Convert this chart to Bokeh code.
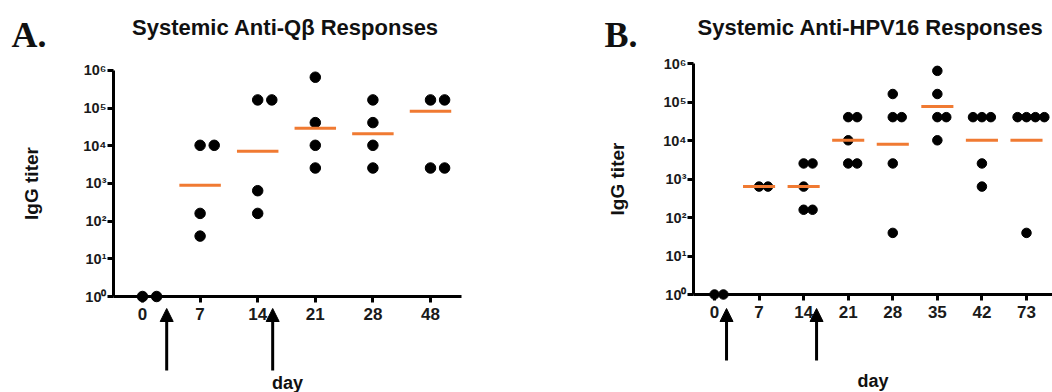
import math
from collections import Counter
from bokeh.plotting import figure
from bokeh.layouts import row
from bokeh.models import (FixedTicker, CustomJSTickFormatter, Label, Range1d,
                          Arrow, NormalHead, ColumnDataSource)
from bokeh.embed import file_html
from bokeh.resources import INLINE

# ---------------- data ----------------
days_A = ["0", "7", "14", "21", "28", "48"]
titers_A = [
    [1, 1],
    [10240, 10240, 160, 40],
    [163840, 163840, 640, 160],
    [655360, 40960, 10240, 2560],
    [163840, 40960, 10240, 2560],
    [163840, 163840, 2560, 2560],
]
means_A = [float("nan"), 900, 7100, 29000, 20700, 82500]
boosts_A = [0.42, 2.26]          # immunisation arrows, in category units

days_B = ["0", "7", "14", "21", "28", "35", "42", "73"]
titers_B = [
    [1, 1],
    [640, 640],
    [2560, 2560, 640, 160, 160],
    [40960, 40960, 10240, 2560, 2560],
    [163840, 40960, 40960, 2560, 40],
    [655360, 163840, 40960, 40960, 10240],
    [40960, 40960, 40960, 2560, 640],
    [40960, 40960, 40960, 40960, 40],
]
means_B = [float("nan"), 640, 640, 10240, 8100, 78000, 10240, 10240]
boosts_B = [0.27, 2.29]

ytick_values = [1, 10, 100, 1000, 10000, 100000, 1000000]
ytick_labels = ["10\u2070", "10\u00b9", "10\u00b2", "10\u00b3", "10\u2074", "10\u2075", "10\u2076"]

FONT = "Liberation Sans"
ORANGE = "#F07A32"
H = 392


def dodge(values, step):
    c = Counter(values)
    seen = {}
    offs = []
    for v in values:
        n = c[v]
        k = seen.get(v, 0)
        seen[v] = k + 1
        offs.append((k - (n - 1) // 2) * step)
    return offs


def panel(title, letter, days, titers, means, boosts, g):
    W = g["width"]
    cat = g["cat_px"]
    x0 = g["x0_px"]
    dec = g["dec_px"]
    z = g["zero_px"]
    x_start = -x0 / cat
    x_end = (W - x0) / cat
    y_start = 10 ** (-(H - z) / dec)
    y_end = 10 ** (z / dec)
    p = figure(width=W, height=H, x_range=Range1d(x_start, x_end),
               y_range=Range1d(y_start, y_end), y_axis_type="log",
               output_backend="svg", toolbar_location=None, title=None,
               min_border_left=0, min_border_right=0, min_border_top=0,
               min_border_bottom=0)
    p.outline_line_color = None
    p.xgrid.visible = False
    p.ygrid.visible = False
    p.background_fill_color = "white"
    p.border_fill_color = "white"

    axis_x = (g["axis_px"] - x0) / cat
    axis_right = (g["axis_right_px"] - x0) / cat

    # data points
    xs, ys = [], []
    for i, vals in enumerate(titers):
        offs = dodge(vals, g["dodge"])
        for v, o in zip(vals, offs):
            xs.append(i + o)
            ys.append(v)
    p.scatter(x="x", y="y", source=ColumnDataSource(dict(x=xs, y=ys)),
              size=g["dot"], fill_color="black", line_color="black")

    # mean bars
    mx0, mx1, my = [], [], []
    for i, m in enumerate(means):
        if m == m:
            mx0.append(i - 0.36)
            mx1.append(i + 0.36)
            my.append(m)
    p.segment(x0=mx0, x1=mx1, y0=my, y1=my, line_color=ORANGE, line_width=3)

    # arrows (immunisations)
    tip = 10 ** (-g["arrow_tip"] / dec)
    tail = 10 ** (-g["arrow_tail"] / dec)
    for b in boosts:
        p.add_layout(Arrow(x_start=b, y_start=tail, x_end=b, y_end=tip,
                           line_width=3, line_color="black",
                           end=NormalHead(size=13, fill_color="black",
                                          line_color="black", line_width=1)))

    # x axis
    xa = p.xaxis[0]
    xa.ticker = FixedTicker(ticks=list(range(len(days))), minor_ticks=[])
    xa.formatter = CustomJSTickFormatter(args=dict(labels=days),
                                         code="return labels[Math.round(tick)];")
    xa.fixed_location = 1
    xa.bounds = (axis_x, axis_right)
    xa.axis_line_width = 3
    xa.major_tick_line_width = 3
    xa.major_tick_out = 6
    xa.major_tick_in = 0
    xa.minor_tick_line_color = None
    xa.major_label_text_font = FONT
    xa.major_label_text_font_style = "bold"
    xa.major_label_text_font_size = "17px"
    xa.major_label_text_color = "#1a1a1a"
    xa.major_label_standoff = 5
    xa.axis_label = "day"
    xa.axis_label_text_font = FONT
    xa.axis_label_text_font_style = "bold"
    xa.axis_label_text_font_size = "18px"
    xa.axis_label_text_color = "#111111"
    xa.axis_label_standoff = g["day_standoff"]

    # y axis
    ya = p.yaxis[0]
    ya.ticker = FixedTicker(ticks=ytick_values, minor_ticks=[])
    ya.formatter = CustomJSTickFormatter(args=dict(labels=ytick_labels),
                                         code="return labels[Math.round(Math.log10(tick))];")
    ya.fixed_location = axis_x
    ya.bounds = (1, 1e6)
    ya.axis_line_width = 3
    ya.major_tick_line_width = 3
    ya.major_tick_out = 6
    ya.major_tick_in = 0
    ya.minor_tick_line_color = None
    ya.major_label_text_font = FONT
    ya.major_label_text_font_style = "bold"
    ya.major_label_text_font_size = "14.5px"
    ya.major_label_text_color = "#1a1a1a"
    ya.major_label_standoff = 1
    ya.axis_label = "IgG titer"
    ya.axis_label_text_font = FONT
    ya.axis_label_text_font_style = "bold"
    ya.axis_label_text_font_size = "19px"
    ya.axis_label_text_color = "#111111"
    ya.axis_label_standoff = g["igg_standoff"]

    p.add_layout(Label(x=g["title_cx"], y=H - 27, x_units="screen", y_units="screen",
                       text=title, text_align="center", text_baseline="middle",
                       text_font=FONT, text_font_style="bold", text_font_size="22px",
                       text_color="#111111"))
    p.add_layout(Label(x=g["letter_x"], y=H - 34, x_units="screen", y_units="screen",
                       text=letter, text_align="left", text_baseline="alphabetic",
                       text_font="Liberation Serif", text_font_style="bold",
                       text_font_size="36px", text_color="#111111"))
    return p


geom_A = dict(width=560, x0_px=142, cat_px=57.6, zero_px=296, dec_px=37.7,
              axis_px=113, axis_right_px=461, arrow_tip=12, arrow_tail=74,
              dot=10.5, dodge=0.245, day_standoff=50, igg_standoff=38,
              title_cx=285, letter_x=11)
geom_B = dict(width=492, x0_px=154, cat_px=44.57, zero_px=294, dec_px=38.45,
              axis_px=133, axis_right_px=492, arrow_tip=14, arrow_tail=66,
              dot=9.5, dodge=0.2, day_standoff=50, igg_standoff=32,
              title_cx=310, letter_x=44)

pA = panel("Systemic Anti-Q\u03b2 Responses", "A.", days_A, titers_A, means_A, boosts_A, geom_A)
pB = panel("Systemic Anti-HPV16 Responses", "B.", days_B, titers_B, means_B, boosts_B, geom_B)

layout = row(pA, pB)
open("out.html", "w").write(file_html(layout, INLINE))
